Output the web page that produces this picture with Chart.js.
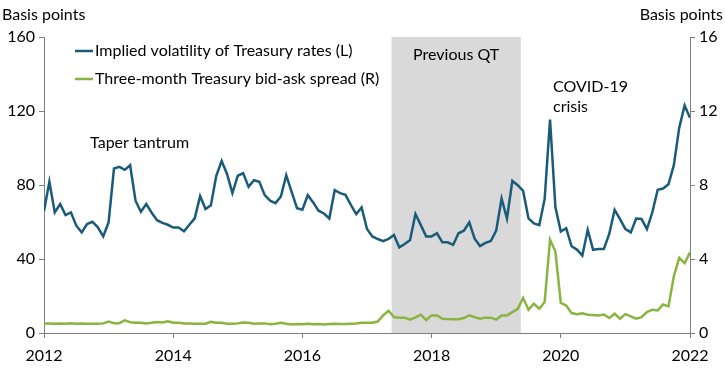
<!DOCTYPE html>
<html>
<head>
<meta charset="utf-8">
<script src="https://cdn.jsdelivr.net/npm/chart.js@4/dist/chart.umd.min.js"></script>
<style>
  body { margin: 0; background: #fff; }
  #wrap { width: 725px; height: 368px; position: relative; }
</style>
</head>
<body>
<div id="wrap"><canvas id="qtChart"></canvas></div>
<script>
// monthly, Jan 2012 .. Jan 2022
const startYear = 2012;
const volatility = [
    66, 81.7, 65.2, 69.7, 63.7, 65.2, 58, 54.4, 58.9, 60.1,
    57.1, 52.2, 59.8, 88.9, 89.8, 88.2, 90.7, 71.5, 65.5, 69.7,
    65, 61, 59.5, 58.5, 57, 57, 55, 58.5, 62, 74,
    67, 69, 85, 93, 86, 75.6, 85, 86.4, 79, 82.6,
    81.7, 74.5, 71.5, 70.2, 73.8, 85.3, 76.3, 67.5, 66.6, 74.5,
    70.6, 66.1, 64.6, 61.9, 77.2, 75.6, 74.7, 69.3, 64.3, 67.9,
    56.2, 52.2, 50.8, 49.6, 50.8, 53, 46.3, 48.1, 50.3, 64.3,
    58.3, 52.2, 52.2, 53.9, 49, 49, 47.6, 53.9, 55.3, 59.8,
    51, 47, 48.7, 49.7, 55.3, 72.7, 61.9, 82.2, 79.9, 76.8,
    61.9, 59.2, 58.3, 72.4, 115.4, 67.9, 54.8, 56.6, 46.9, 45.1,
    41.8, 55.8, 45, 45.4, 45.4, 53.5, 66.6, 61.6, 56.2, 54.4,
    61.9, 61.6, 56.2, 65.2, 77.4, 78.1, 80.4, 90.7, 111, 123,
    116.3
];
const bidAsk = [
    0.52, 0.52, 0.50, 0.52, 0.50, 0.53, 0.50, 0.52, 0.50, 0.50,
    0.50, 0.52, 0.62, 0.53, 0.53, 0.68, 0.58, 0.55, 0.55, 0.52,
    0.55, 0.60, 0.57, 0.63, 0.55, 0.55, 0.52, 0.52, 0.50, 0.50,
    0.50, 0.60, 0.55, 0.55, 0.50, 0.50, 0.52, 0.57, 0.55, 0.50,
    0.52, 0.52, 0.48, 0.50, 0.55, 0.50, 0.46, 0.48, 0.47, 0.50,
    0.47, 0.48, 0.46, 0.48, 0.50, 0.48, 0.48, 0.50, 0.52, 0.55,
    0.56, 0.55, 0.62, 0.95, 1.20, 0.86, 0.83, 0.83, 0.72, 0.84,
    0.99, 0.70, 0.95, 0.95, 0.77, 0.75, 0.74, 0.74, 0.81, 0.95,
    0.86, 0.77, 0.83, 0.83, 0.72, 0.95, 0.95, 1.13, 1.31, 1.90,
    1.26, 1.58, 1.31, 1.67, 5.04, 4.40, 1.63, 1.49, 1.08, 1.02,
    1.06, 0.99, 0.97, 0.95, 1.00, 0.81, 1.04, 0.77, 1.02, 0.90,
    0.77, 0.86, 1.13, 1.26, 1.22, 1.54, 1.44, 3.07, 4.06, 3.77,
    4.36
];
const xTicks = [2012, 2014, 2016, 2018, 2020, 2022];
const leftTicks = [0, 40, 80, 120, 160];
const rightTicks = [0, 4, 8, 12, 16];
const qtPeriod = [2017.38, 2019.38];
const seriesNames = ['Implied volatility of Treasury rates (L)', 'Three-month Treasury bid-ask spread (R)'];

const FONT = 'Lato, "Open Sans", sans-serif';
const FONT_SIZE = 16;
const BLUE = '#1b5b7a';
const GREEN = '#8ab440';
const AXIS = '#7f7f7f';

function toPoints(values) {
    return values.map(function(v, i) { return { x: startYear + i / 12, y: v }; });
}

// grey band for previous QT, drawn behind the lines
const qtBand = {
    id: 'qtBand',
    beforeDatasetsDraw(chart) {
        const ctx = chart.ctx, x = chart.scales.x, area = chart.chartArea;
        const x0 = x.getPixelForValue(qtPeriod[0]);
        const x1 = x.getPixelForValue(qtPeriod[1]);
        ctx.save();
        ctx.fillStyle = '#d9d9d9';
        ctx.fillRect(x0, area.top, x1 - x0, area.bottom - area.top);
        ctx.restore();
    }
};

// legend, annotations and axis titles
const labels = {
    id: 'labels',
    afterDraw(chart) {
        const ctx = chart.ctx, x = chart.scales.x;
        ctx.save();
        ctx.font = FONT_SIZE + 'px ' + FONT;
        ctx.fillStyle = '#000';
        ctx.textBaseline = 'middle';

        // legend
        [[BLUE, 51], [GREEN, 79]].forEach(function(item, i) {
            ctx.strokeStyle = item[0];
            ctx.lineWidth = 2.5;
            ctx.beginPath();
            ctx.moveTo(75, item[1]);
            ctx.lineTo(93, item[1]);
            ctx.stroke();
            ctx.fillText(seriesNames[i], 95, item[1]);
        });

        ctx.textAlign = 'center';
        ctx.fillText('Taper tantrum', x.getPixelForValue(2013.48), 143);
        ctx.fillText('Previous QT', (x.getPixelForValue(qtPeriod[0]) + x.getPixelForValue(qtPeriod[1])) / 2, 55);
        ctx.textAlign = 'left';
        ctx.fillText('COVID-19', 553, 87);
        ctx.fillText('crisis', 553, 107);

        // axis titles
        ctx.fillText('Basis points', 2, 15);
        ctx.textAlign = 'right';
        ctx.fillText('Basis points', 723, 15);
        ctx.restore();
    }
};

const ctxEl = document.getElementById('qtChart');
new Chart(ctxEl, {
    type: 'line',
    data: {
        datasets: [{
            label: seriesNames[0],
            data: toPoints(volatility),
            borderColor: BLUE,
            borderWidth: 2.5,
            pointRadius: 0,
            tension: 0,
            yAxisID: 'y'
        }, {
            label: seriesNames[1],
            data: toPoints(bidAsk),
            borderColor: GREEN,
            borderWidth: 2.5,
            pointRadius: 0,
            tension: 0,
            yAxisID: 'y2'
        }]
    },
    options: {
        responsive: true,
        maintainAspectRatio: false,
        animation: false,
        layout: { padding: { top: 37, right: 0, left: 0, bottom: 0 } },
        scales: {
            x: {
                type: 'linear',
                min: 2012,
                max: 2022,
                afterBuildTicks: function(scale) {
                    scale.ticks = xTicks.map(function(v) { return { value: v }; });
                },
                afterFit: function(scale) { scale.height = 35; },
                ticks: {
                    callback: function(v) { return String(v); },
                    color: '#000',
                    font: { family: FONT, size: FONT_SIZE },
                    padding: 8,
                    maxRotation: 0
                },
                grid: { drawOnChartArea: false, tickLength: 5, color: AXIS },
                border: { color: AXIS, width: 1 }
            },
            y: {
                position: 'left',
                min: 0,
                max: 160,
                afterBuildTicks: function(scale) {
                    scale.ticks = leftTicks.map(function(v) { return { value: v }; });
                },
                afterFit: function(scale) { scale.width = 44; },
                ticks: {
                    color: '#000',
                    font: { family: FONT, size: FONT_SIZE },
                    padding: 4
                },
                grid: { drawOnChartArea: false, tickLength: 5, color: AXIS },
                border: { color: AXIS, width: 1 }
            },
            y2: {
                position: 'right',
                min: 0,
                max: 16,
                afterBuildTicks: function(scale) {
                    scale.ticks = rightTicks.map(function(v) { return { value: v }; });
                },
                afterFit: function(scale) { scale.width = 35; },
                ticks: {
                    color: '#000',
                    font: { family: FONT, size: FONT_SIZE },
                    padding: 4
                },
                grid: { drawOnChartArea: false, tickLength: 5, color: AXIS },
                border: { color: AXIS, width: 1 }
            }
        },
        plugins: {
            legend: { display: false },
            tooltip: { enabled: false }
        }
    },
    plugins: [qtBand, labels]
});
</script>
</body>
</html>
